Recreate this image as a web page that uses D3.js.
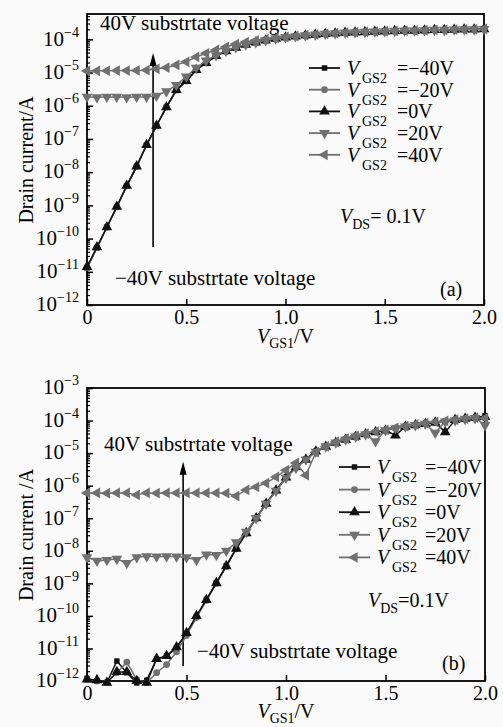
<!DOCTYPE html>
<html>
<head>
<meta charset="utf-8">
<script src="https://cdn.jsdelivr.net/npm/d3@7"></script>
<style>
body { margin: 0; background: #fafafa; }
svg { display: block; font-family: "Liberation Serif", "Times New Roman", serif; }
</style>
</head>
<body>
<div id="chart"></div>
<script>
// gate voltage V_GS1 (V), one point every 0.05 V
var vgs1 = [0, 0.05, 0.1, 0.15, 0.2, 0.25, 0.3, 0.35, 0.4, 0.45, 0.5, 0.55, 0.6, 0.65, 0.7, 0.75, 0.8, 0.85, 0.9, 0.95,
    1.0, 1.05, 1.1, 1.15, 1.2, 1.25, 1.3, 1.35, 1.4, 1.45, 1.5, 1.55, 1.6, 1.65, 1.7, 1.75, 1.8, 1.85, 1.9, 1.95, 2.0];

var legendLabels = ["=\u221240V", "=\u221220V", "=0V", "=20V", "=40V"];
var xTicks = [0, 0.5, 1.0, 1.5, 2.0];
var xTickLabels = ["0", "0.5", "1.0", "1.5", "2.0"];
var decadesA = [-12, -11, -10, -9, -8, -7, -6, -5, -4];
var decadesB = [-12, -11, -10, -9, -8, -7, -6, -5, -4, -3];

// panel (a) drain current (A)
var aM40 = [1.3e-11, 5.3e-11, 2.2e-10, 9.0e-10, 3.8e-9, 1.5e-8, 6.5e-8, 2.5e-7, 9.0e-7, 2.9e-6, 5.5e-6, 1.2e-5, 1.95e-5, 3.2e-5, 4.4e-5, 5.6e-5, 6.9e-5, 8.1e-5, 9.3e-5, 1.05e-4,
    1.15e-4, 1.23e-4, 1.32e-4, 1.38e-4, 1.45e-4, 1.51e-4, 1.58e-4, 1.62e-4, 1.66e-4, 1.70e-4, 1.74e-4, 1.78e-4, 1.82e-4, 1.82e-4, 1.86e-4, 1.91e-4, 1.91e-4, 1.95e-4, 2.0e-4, 2.0e-4, 2.04e-4];
var aM20 = [1.35e-11, 5.4e-11, 2.2e-10, 9.0e-10, 3.9e-9, 1.5e-8, 6.6e-8, 2.5e-7, 9.1e-7, 3.0e-6, 5.6e-6, 1.2e-5, 1.95e-5, 3.2e-5, 4.4e-5, 5.6e-5, 6.9e-5, 8.1e-5, 9.3e-5, 1.05e-4,
    1.15e-4, 1.23e-4, 1.32e-4, 1.38e-4, 1.45e-4, 1.51e-4, 1.58e-4, 1.62e-4, 1.66e-4, 1.70e-4, 1.74e-4, 1.78e-4, 1.82e-4, 1.82e-4, 1.86e-4, 1.91e-4, 1.91e-4, 1.95e-4, 2.0e-4, 2.0e-4, 2.04e-4];
var a0 = [1.4e-11, 5.5e-11, 2.2e-10, 9.1e-10, 3.9e-9, 1.5e-8, 6.6e-8, 2.5e-7, 9.1e-7, 3.0e-6, 5.6e-6, 1.2e-5, 1.95e-5, 3.2e-5, 4.4e-5, 5.6e-5, 6.9e-5, 8.1e-5, 9.3e-5, 1.05e-4,
    1.15e-4, 1.23e-4, 1.32e-4, 1.38e-4, 1.45e-4, 1.51e-4, 1.58e-4, 1.62e-4, 1.66e-4, 1.70e-4, 1.74e-4, 1.78e-4, 1.82e-4, 1.82e-4, 1.86e-4, 1.91e-4, 1.91e-4, 1.95e-4, 2.0e-4, 2.0e-4, 2.04e-4];
var a20 = [1.85e-6, 1.8e-6, 1.85e-6, 1.85e-6, 1.8e-6, 1.85e-6, 1.85e-6, 2.0e-6, 2.7e-6, 4.2e-6, 7.6e-6, 1.38e-5, 2.3e-5, 3.3e-5, 4.5e-5, 5.8e-5, 7.0e-5, 8.2e-5, 9.4e-5, 1.06e-4,
    1.16e-4, 1.24e-4, 1.33e-4, 1.39e-4, 1.46e-4, 1.52e-4, 1.59e-4, 1.63e-4, 1.67e-4, 1.71e-4, 1.75e-4, 1.79e-4, 1.83e-4, 1.84e-4, 1.87e-4, 1.92e-4, 1.92e-4, 1.96e-4, 2.0e-4, 2.01e-4, 2.05e-4];
var a40 = [1.12e-5, 1.13e-5, 1.13e-5, 1.15e-5, 1.15e-5, 1.16e-5, 1.18e-5, 1.3e-5, 1.4e-5, 1.7e-5, 2.1e-5, 2.95e-5, 3.8e-5, 4.8e-5, 5.9e-5, 7.2e-5, 8.3e-5, 9.3e-5, 1.02e-4, 1.1e-4,
    1.18e-4, 1.26e-4, 1.33e-4, 1.4e-4, 1.47e-4, 1.53e-4, 1.6e-4, 1.64e-4, 1.68e-4, 1.72e-4, 1.76e-4, 1.8e-4, 1.84e-4, 1.85e-4, 1.88e-4, 1.93e-4, 1.93e-4, 1.97e-4, 2.01e-4, 2.02e-4, 2.06e-4];

// panel (b) drain current (A)
var bM40 = [1.2e-12, 1.0e-12, 8.9e-13, 4.1e-12, 1.8e-12, 8.7e-13, 1.05e-12, 4.7e-12, 5.8e-12, 1.05e-11, 2.8e-11, 9.5e-11, 3.2e-10, 1.05e-9, 3.5e-9, 1.2e-8, 3.6e-8, 1.02e-7, 2.9e-7, 7.2e-7,
    1.8e-6, 3.8e-6, 6.6e-6, 1.15e-5, 1.62e-5, 2.1e-5, 2.7e-5, 3.2e-5, 3.9e-5, 4.5e-5, 5.1e-5, 5.9e-5, 6.6e-5, 7.4e-5, 8.1e-5, 8.9e-5, 9.5e-5, 1.02e-4, 1.12e-4, 1.2e-4, 1.41e-4];
var bM20 = [1.1e-12, 1.0e-12, 9.3e-13, 1.8e-12, 3.8e-12, 1.1e-12, 8.9e-13, 1.8e-12, 3.2e-12, 7.9e-12, 2.5e-11, 8.9e-11, 3.0e-10, 1.0e-9, 3.3e-9, 1.15e-8, 3.4e-8, 9.8e-8, 2.8e-7, 7.0e-7,
    1.75e-6, 3.6e-6, 6.4e-6, 1.1e-5, 1.6e-5, 2.1e-5, 2.7e-5, 3.3e-5, 3.9e-5, 4.5e-5, 5.1e-5, 5.8e-5, 6.5e-5, 7.3e-5, 8.0e-5, 8.8e-5, 9.4e-5, 1.02e-4, 1.1e-4, 1.18e-4, 1.25e-4];
var b0 = [1.12e-12, 1.07e-12, 8.9e-13, 1.9e-12, 1.9e-12, 1.0e-12, 8.9e-13, 4.8e-12, 5.9e-12, 1.1e-11, 3.0e-11, 1.0e-10, 3.1e-10, 1.02e-9, 3.4e-9, 1.17e-8, 3.5e-8, 1.0e-7, 2.8e-7, 7.1e-7,
    1.78e-6, 3.7e-6, 6.3e-6, 1.12e-5, 1.58e-5, 2.1e-5, 2.6e-5, 3.2e-5, 3.8e-5, 4.4e-5, 5.0e-5, 3.5e-5, 6.5e-5, 7.2e-5, 7.9e-5, 8.7e-5, 4.4e-5, 1.05e-4, 1.15e-4, 1.23e-4, 1.29e-4];
var b20 = [6.3e-9, 4.9e-9, 5.2e-9, 5.6e-9, 4.2e-9, 6.3e-9, 6.8e-9, 6.6e-9, 6.8e-9, 6.6e-9, 6.3e-9, 5.2e-9, 7.6e-9, 7.4e-9, 1.0e-8, 1.8e-8, 3.8e-8, 1.0e-7, 2.75e-7, 6.9e-7,
    1.74e-6, 3.5e-6, 6.3e-6, 1.1e-5, 1.6e-5, 2.1e-5, 2.6e-5, 3.2e-5, 3.8e-5, 2.3e-5, 5.0e-5, 5.8e-5, 6.5e-5, 7.2e-5, 7.9e-5, 4.2e-5, 9.3e-5, 1.02e-4, 1.12e-4, 1.2e-4, 7.2e-5];
var b40 = [6.0e-7, 6.0e-7, 5.9e-7, 6.0e-7, 6.0e-7, 5.2e-7, 6.0e-7, 5.9e-7, 6.0e-7, 6.0e-7, 6.0e-7, 6.0e-7, 6.0e-7, 6.0e-7, 5.9e-7, 4.8e-7, 7.4e-7, 9.1e-7, 1.2e-6, 1.86e-6,
    3.0e-6, 5.0e-6, 2.1e-6, 1.07e-5, 1.6e-5, 2.2e-5, 2.8e-5, 3.4e-5, 4.0e-5, 4.6e-5, 5.2e-5, 6.0e-5, 6.8e-5, 7.6e-5, 8.3e-5, 9.1e-5, 9.8e-5, 1.07e-4, 1.15e-4, 1.23e-4, 1.17e-4];

var width = 503, height = 727;
var black = "#111", gray = "#707070";

// style per V_GS2 series: -40, -20, 0, 20, 40
var styles = [
    {color: black, sym: d3.symbolSquare, size: 30, rot: 0},
    {color: gray, sym: d3.symbolCircle, size: 36, rot: 0},
    {color: black, sym: d3.symbolTriangle, size: 50, rot: 0},
    {color: gray, sym: d3.symbolTriangle, size: 50, rot: 180},
    {color: gray, sym: d3.symbolTriangle, size: 50, rot: -90}
];

var svg = d3.select("#chart").append("svg")
    .attr("width", width)
    .attr("height", height);

var panels = [
    {series: [aM40, aM20, a0, a20, a40], decades: decadesA, ymax: 5.8e-4,
        left: 87, right: 484, top: 14, bottom: 305, ytitle: "Drain current/A", ytitleY: 160,
        xtitleY: 343, legX: 309, legY: 68, legStep: 21.7, eqX: 397,
        up: {x: 0.333, y0: 5.6e-11, y1: 3.9e-5}, upText: [100, 30], downText: [115, 285],
        vds: [340, 223, "= 0.1V"], tag: ["(a)", 440, 296]},
    {series: [bM40, bM20, b0, b20, b40], decades: decadesB, ymax: 1e-3,
        left: 87, right: 485, top: 388, bottom: 681, ytitle: "Drain current /A", ytitleY: 535,
        xtitleY: 718, legX: 339, legY: 467, legStep: 22.6, eqX: 425,
        up: {x: 0.483, y0: 2.9e-12, y1: 5.4e-6}, upText: [104, 451], downText: [197, 658],
        vds: [368, 607, "=0.1V"], tag: ["(b)", 442, 670]}
];

panels.forEach(drawPanel);

function drawPanel(p) {
    var x = d3.scaleLinear().domain([0, 2]).range([p.left, p.right]);
    var y = d3.scaleLog().domain([1e-12, p.ymax]).range([p.bottom, p.top]);
    var g = svg.append("g");

    // minor log ticks, pointing inward
    var minor = [];
    p.decades.forEach(function (e) {
        for (var k = 2; k <= 9; k++) {
            var v = k * Math.pow(10, e);
            if (v < p.ymax) minor.push(v);
        }
    });
    g.append("g").attr("transform", "translate(" + p.left + ",0)")
        .call(d3.axisLeft(y).tickValues(minor).tickSize(-3).tickFormat(""))
        .call(function (a) { a.select(".domain").remove(); })
        .selectAll("line").attr("stroke", "#000").attr("stroke-width", 1.2);

    var major = g.append("g").attr("transform", "translate(" + p.left + ",0)")
        .call(d3.axisLeft(y).tickValues(p.decades.map(function (e) { return Math.pow(10, e); }))
            .tickSize(-6).tickFormat(""))
        .call(function (a) { a.select(".domain").remove(); });
    major.selectAll("line").attr("stroke", "#000").attr("stroke-width", 1.5);

    p.decades.forEach(function (e) {
        var t = g.append("text")
            .attr("x", p.left - 8)
            .attr("y", y(Math.pow(10, e)))
            .attr("dy", "0.3em")
            .attr("text-anchor", "end")
            .attr("font-size", 21)
            .attr("fill", "#000");
        t.append("tspan").text("10");
        t.append("tspan").attr("font-size", 14).attr("dy", -9).text("\u2212" + (-e));
    });

    var xa = g.append("g").attr("transform", "translate(0," + p.bottom + ")")
        .call(d3.axisBottom(x).tickValues(xTicks).tickSize(-6).tickPadding(5)
            .tickFormat(function (d, i) { return xTickLabels[i]; }))
        .call(function (a) { a.select(".domain").remove(); });
    xa.selectAll("line").attr("stroke", "#000").attr("stroke-width", 1.5);
    xa.selectAll("text").attr("font-size", 20).attr("fill", "#000")
        .attr("font-family", "Liberation Serif, Times New Roman, serif");

    // frame
    g.append("rect")
        .attr("x", p.left).attr("y", p.top)
        .attr("width", p.right - p.left).attr("height", p.bottom - p.top)
        .attr("fill", "none").attr("stroke", "#000").attr("stroke-width", 1.8);

    // axis titles
    g.append("text")
        .attr("transform", "translate(33," + p.ytitleY + ") rotate(-90)")
        .attr("text-anchor", "middle")
        .attr("font-size", 20)
        .text(p.ytitle);

    var xt = g.append("text")
        .attr("x", (p.left + p.right) / 2).attr("y", p.xtitleY)
        .attr("text-anchor", "middle").attr("font-size", 20);
    xt.append("tspan").attr("font-style", "italic").text("V");
    xt.append("tspan").attr("font-size", 14).attr("dy", 5).text("GS1");
    xt.append("tspan").attr("dy", -5).text("/V");

    // annotations
    g.append("text").attr("x", p.upText[0]).attr("y", p.upText[1])
        .attr("font-size", 21).text("40V substrtate voltage");
    g.append("text").attr("x", p.downText[0]).attr("y", p.downText[1])
        .attr("font-size", 21).text("\u221240V substrtate voltage");

    var ax = x(p.up.x), ay0 = y(p.up.y0), ay1 = y(p.up.y1);
    g.append("line").attr("x1", ax).attr("x2", ax).attr("y1", ay0).attr("y2", ay1 + 10)
        .attr("stroke", "#000").attr("stroke-width", 1.6);
    g.append("path")
        .attr("d", "M" + ax + "," + ay1 + "L" + (ax - 3.5) + "," + (ay1 + 13) + "L" + (ax + 3.5) + "," + (ay1 + 13) + "Z")
        .attr("fill", "#000");

    var vd = g.append("text").attr("x", p.vds[0]).attr("y", p.vds[1]).attr("font-size", 20);
    vd.append("tspan").attr("font-style", "italic").text("V");
    vd.append("tspan").attr("font-size", 14).attr("dy", 6).text("DS");
    vd.append("tspan").attr("dy", -6).text(p.vds[2]);

    g.append("text").attr("x", p.tag[1]).attr("y", p.tag[2]).attr("font-size", 20).text(p.tag[0]);

    // series
    var line = d3.line()
        .x(function (d, i) { return x(vgs1[i]); })
        .y(function (d) { return y(d); });

    p.series.forEach(function (s, k) {
        var st = styles[k];
        g.append("path").datum(s)
            .attr("d", line)
            .attr("fill", "none")
            .attr("stroke", st.color)
            .attr("stroke-width", 1.5);
        g.append("g").selectAll("path").data(s).enter().append("path")
            .attr("d", d3.symbol().type(st.sym).size(st.size))
            .attr("transform", function (d, i) {
                return "translate(" + x(vgs1[i]) + "," + y(d) + ") rotate(" + st.rot + ")";
            })
            .attr("fill", st.color);
    });

    // legend
    legendLabels.forEach(function (lab, k) {
        var st = styles[k];
        var ly = p.legY + k * p.legStep;
        var lg = g.append("g");
        lg.append("line").attr("x1", p.legX).attr("x2", p.legX + 31).attr("y1", ly).attr("y2", ly)
            .attr("stroke", st.color).attr("stroke-width", 1.8);
        lg.append("path")
            .attr("d", d3.symbol().type(st.sym).size(st.size))
            .attr("transform", "translate(" + (p.legX + 15.5) + "," + ly + ") rotate(" + st.rot + ")")
            .attr("fill", st.color);
        lg.append("text").attr("x", p.legX + 38).attr("y", ly + 7)
            .attr("font-size", 20).attr("font-style", "italic").text("V");
        lg.append("text").attr("x", p.legX + 53).attr("y", ly + 15)
            .attr("font-size", 14).text("GS2");
        lg.append("text").attr("x", p.eqX).attr("y", ly + 7)
            .attr("font-size", 20).text(lab);
    });
}
</script>
</body>
</html>
